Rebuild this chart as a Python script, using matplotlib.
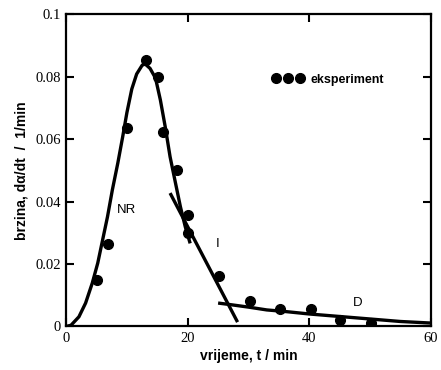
import matplotlib
matplotlib.use("Agg")
import matplotlib.pyplot as plt

# experimental points
t_exp = [5.1, 6.9, 10.0, 13.2, 15.1, 16.0, 18.2, 20.1, 20.0, 25.2, 30.2, 35.1, 40.2, 45.1, 50.2]
r_exp = [0.0148, 0.0265, 0.0635, 0.0853, 0.0800, 0.0622, 0.0500, 0.0357, 0.0300, 0.0162,
         0.0083, 0.0055, 0.0055, 0.0022, 0.0011]

# model NR
t_nr = [0.0, 0.8, 2.1, 3.2, 4.3, 5.2, 6.0, 6.8, 7.6, 8.5, 9.3, 10.0, 10.8, 11.6, 12.5, 13.0,
        13.8, 14.7, 15.5, 16.3, 17.1, 18.0, 18.8, 19.6, 20.4]
r_nr = [0.0, 0.0004, 0.0031, 0.0075, 0.0139, 0.0203, 0.0277, 0.0351, 0.0437, 0.0523, 0.0607,
        0.0685, 0.0760, 0.0808, 0.0836, 0.0840, 0.0826, 0.0795, 0.0725, 0.0639, 0.0543,
        0.0458, 0.0383, 0.0319, 0.0266]

# model I
t_i = [17.1, 28.2]
r_i = [0.0427, 0.0014]

# model D
t_d = [25.0, 27.0, 30.0, 33.0, 36.0, 40.0, 45.0, 50.0, 55.0, 60.0]
r_d = [0.0075, 0.0070, 0.0062, 0.0053, 0.0048, 0.0040, 0.0032, 0.0024, 0.0016, 0.0011]

fig = plt.figure(figsize=(4.41, 3.70), dpi=100)
ax = fig.add_axes([0.150, 0.1176, 0.827, 0.8445])

for tt, rr in [(t_nr, r_nr), (t_i, r_i), (t_d, r_d)]:
    ax.plot(tt, rr, color="black", lw=2.4, solid_capstyle="butt", solid_joinstyle="round")
ax.plot(t_exp, r_exp, "o", color="black", ms=7, ls="none", label="eksperiment")

ax.set_xlim(0, 60)
ax.set_ylim(0, 0.1)
ax.set_xticks([0, 20, 40, 60])
ax.set_yticks([0, 0.02, 0.04, 0.06, 0.08, 0.1])
ax.set_yticklabels(["0", "0.02", "0.04", "0.06", "0.08", "0.1"])
ax.tick_params(direction="in", length=6, width=1.5, top=True, right=True, pad=4,
               labelsize=10.5)
for lab in ax.get_xticklabels() + ax.get_yticklabels():
    lab.set_family("Liberation Serif")
for sp in ax.spines.values():
    sp.set_linewidth(1.6)

ax.set_xlabel("vrijeme, t / min", family="Liberation Sans", fontweight="bold",
              fontsize=10, labelpad=3)
ax.set_ylabel("brzina, d\u03b1/dt  /  1/min", family="Liberation Sans", fontweight="bold",
              fontsize=10, labelpad=5)

ax.text(9.9, 0.0373, "NR", fontsize=9.5, family="Liberation Sans", ha="center", va="center")
ax.text(25.0, 0.0264, "I", fontsize=9.5, family="Liberation Sans", ha="center", va="center")
ax.text(48.0, 0.0075, "D", fontsize=9.5, family="Liberation Sans", ha="center", va="center")

leg = ax.legend(loc="center left", bbox_to_anchor=(0.535, 0.79), frameon=False, numpoints=3,
                handlelength=2.5, handletextpad=0.5, markerscale=1.0,
                prop={"family": "Liberation Sans", "weight": "bold", "size": 9})

fig.savefig("out.png", dpi=100)
